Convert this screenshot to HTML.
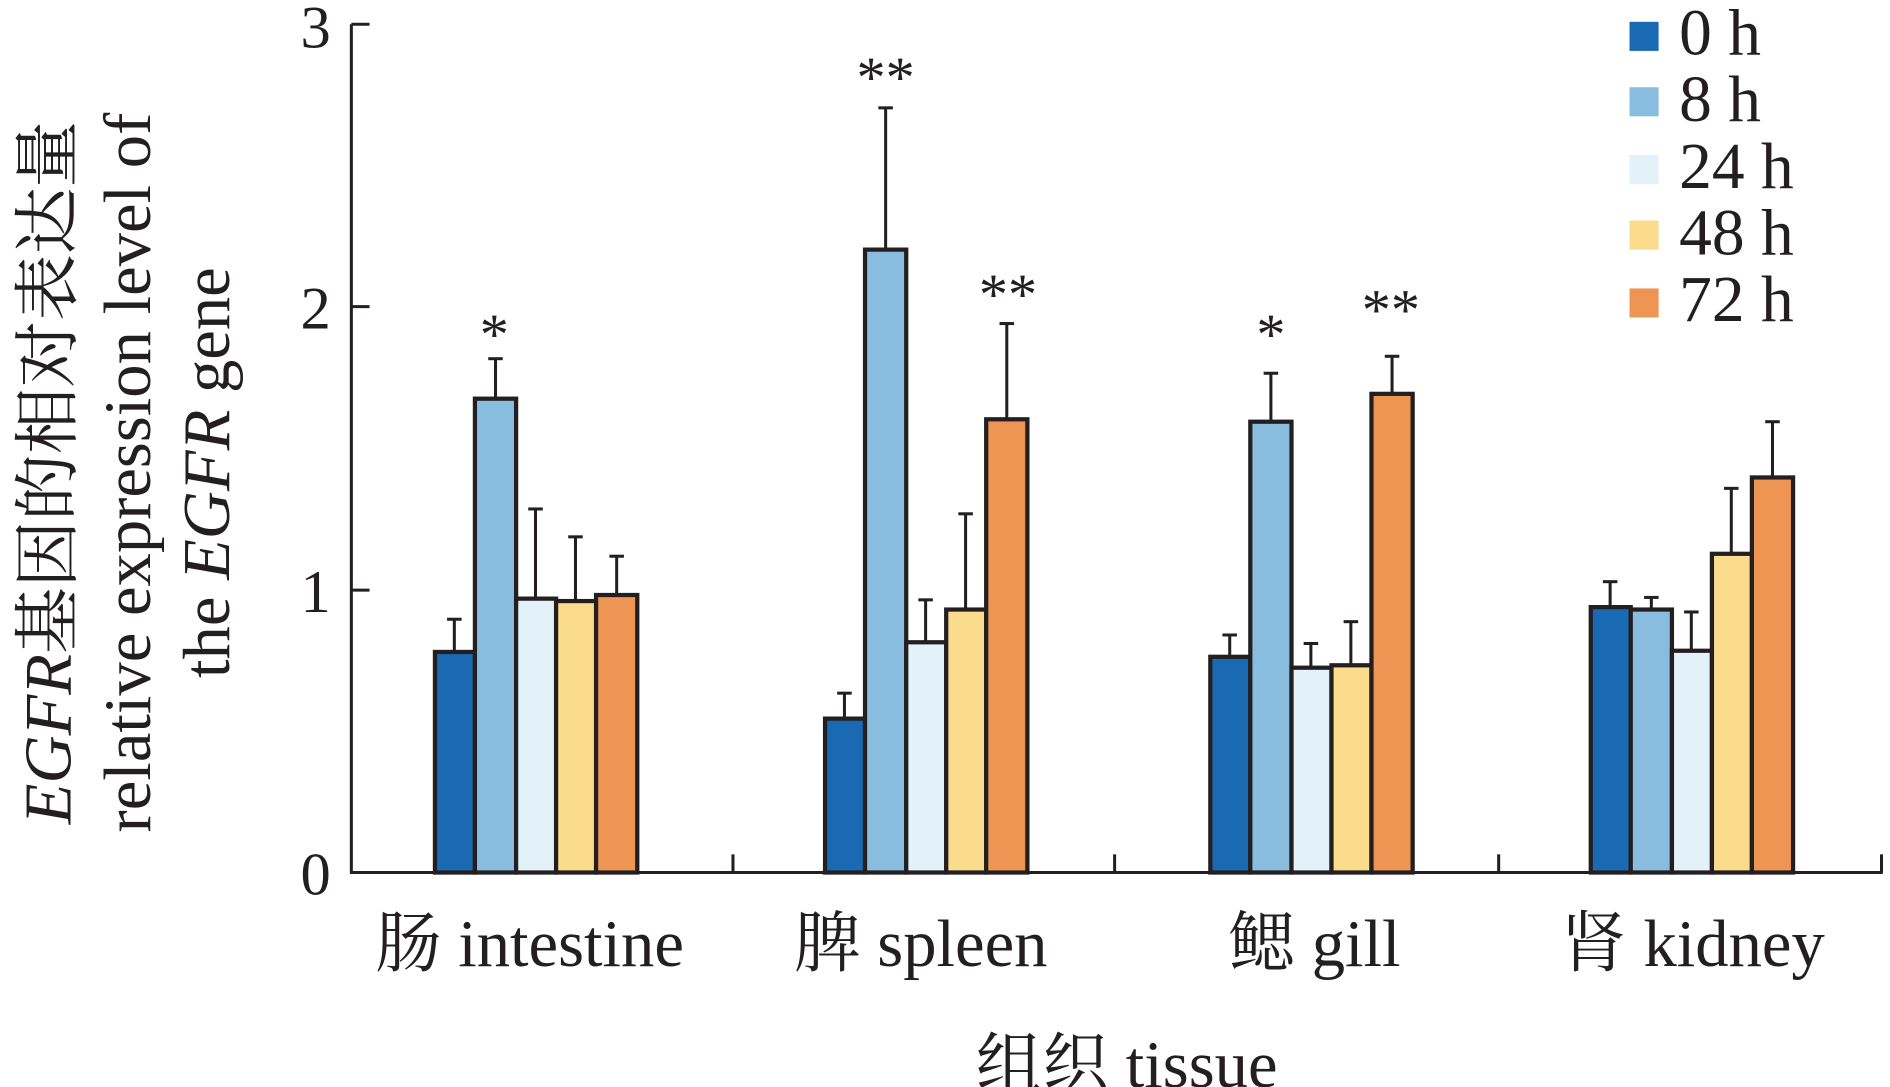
<!DOCTYPE html>
<html><head><meta charset="utf-8"><style>
html,body{margin:0;padding:0;background:#fff;}
svg{display:block;}
text{font-family:"Liberation Serif","Noto Serif CJK SC",serif;fill:#231f20;}
</style></head><body>
<svg width="1890" height="1087" viewBox="0 0 1560 897" preserveAspectRatio="none" xmlns="http://www.w3.org/2000/svg">
<g stroke="#231f20" stroke-width="2.5" fill="none">
<line x1="290" y1="20" x2="290" y2="721"/>
<line x1="289" y1="720" x2="1554" y2="720"/>
<line x1="290" y1="20" x2="305" y2="20"/>
<line x1="290" y1="253" x2="305" y2="253"/>
<line x1="290" y1="487" x2="305" y2="487"/>
<line x1="605" y1="705" x2="605" y2="720"/>
<line x1="920" y1="705" x2="920" y2="720"/>
<line x1="1237" y1="705" x2="1237" y2="720"/>
<line x1="1553" y1="705" x2="1553" y2="720"/>
</g>
<g font-size="50" text-anchor="end">
<text x="273" y="738">0</text><text x="273" y="271">2</text><text x="273" y="505">1</text><text x="273" y="39">3</text>
</g>
<g stroke="#231f20" stroke-width="3.5">
<g stroke-width="2.5">
<line x1="375" y1="538" x2="375" y2="511"/><line x1="369" y1="511" x2="381" y2="511"/>
<line x1="409" y1="329" x2="409" y2="296"/><line x1="403" y1="296" x2="415" y2="296"/>
<line x1="442" y1="494" x2="442" y2="420"/><line x1="436" y1="420" x2="448" y2="420"/>
<line x1="475" y1="496" x2="475" y2="443"/><line x1="469" y1="443" x2="481" y2="443"/>
<line x1="509" y1="491" x2="509" y2="459"/><line x1="503" y1="459" x2="515" y2="459"/>
<line x1="697" y1="593" x2="697" y2="572"/><line x1="691" y1="572" x2="703" y2="572"/>
<line x1="731" y1="206" x2="731" y2="89"/><line x1="725" y1="89" x2="737" y2="89"/>
<line x1="764" y1="530" x2="764" y2="495"/><line x1="758" y1="495" x2="770" y2="495"/>
<line x1="797" y1="503" x2="797" y2="424"/><line x1="791" y1="424" x2="803" y2="424"/>
<line x1="831" y1="346" x2="831" y2="267"/><line x1="825" y1="267" x2="837" y2="267"/>
<line x1="1015" y1="542" x2="1015" y2="524"/><line x1="1009" y1="524" x2="1021" y2="524"/>
<line x1="1049" y1="348" x2="1049" y2="308"/><line x1="1043" y1="308" x2="1055" y2="308"/>
<line x1="1082" y1="551" x2="1082" y2="531"/><line x1="1076" y1="531" x2="1088" y2="531"/>
<line x1="1115" y1="549" x2="1115" y2="513"/><line x1="1109" y1="513" x2="1121" y2="513"/>
<line x1="1149" y1="325" x2="1149" y2="294"/><line x1="1143" y1="294" x2="1155" y2="294"/>
<line x1="1329" y1="501" x2="1329" y2="480"/><line x1="1323" y1="480" x2="1335" y2="480"/>
<line x1="1363" y1="503" x2="1363" y2="493"/><line x1="1357" y1="493" x2="1369" y2="493"/>
<line x1="1396" y1="537" x2="1396" y2="505"/><line x1="1390" y1="505" x2="1402" y2="505"/>
<line x1="1429" y1="457" x2="1429" y2="403"/><line x1="1423" y1="403" x2="1435" y2="403"/>
<line x1="1463" y1="394" x2="1463" y2="348"/><line x1="1457" y1="348" x2="1469" y2="348"/>
</g>
<rect x="359" y="538" width="33" height="182" fill="#1a6ab3"/>
<rect x="392" y="329" width="34" height="391" fill="#88bde0"/>
<rect x="426" y="494" width="33" height="226" fill="#e3f1f8"/>
<rect x="459" y="496" width="33" height="224" fill="#fbdc8c"/>
<rect x="492" y="491" width="34" height="229" fill="#ef9553"/>
<rect x="681" y="593" width="33" height="127" fill="#1a6ab3"/>
<rect x="714" y="206" width="34" height="514" fill="#88bde0"/>
<rect x="748" y="530" width="33" height="190" fill="#e3f1f8"/>
<rect x="781" y="503" width="33" height="217" fill="#fbdc8c"/>
<rect x="814" y="346" width="34" height="374" fill="#ef9553"/>
<rect x="999" y="542" width="33" height="178" fill="#1a6ab3"/>
<rect x="1032" y="348" width="34" height="372" fill="#88bde0"/>
<rect x="1066" y="551" width="33" height="169" fill="#e3f1f8"/>
<rect x="1099" y="549" width="33" height="171" fill="#fbdc8c"/>
<rect x="1132" y="325" width="34" height="395" fill="#ef9553"/>
<rect x="1313" y="501" width="33" height="219" fill="#1a6ab3"/>
<rect x="1346" y="503" width="34" height="217" fill="#88bde0"/>
<rect x="1380" y="537" width="33" height="183" fill="#e3f1f8"/>
<rect x="1413" y="457" width="33" height="263" fill="#fbdc8c"/>
<rect x="1446" y="394" width="34" height="326" fill="#ef9553"/>
</g>
<g font-size="48" text-anchor="middle">
<text x="408" y="292">*</text>
<text x="731" y="80">**</text>
<text x="832" y="259">**</text>
<text x="1049" y="292">*</text>
<text x="1148" y="272">**</text>
</g>
<rect x="1345" y="18" width="24" height="24" fill="#1a6ab3"/>
<rect x="1345" y="72" width="24" height="24" fill="#88bde0"/>
<rect x="1345" y="128" width="24" height="24" fill="#e3f1f8"/>
<rect x="1345" y="182" width="24" height="24" fill="#fbdc8c"/>
<rect x="1345" y="238" width="24" height="24" fill="#ef9553"/>
<g font-size="54">
<text x="1386" y="45">0 h</text>
<text x="1386" y="100">8 h</text>
<text x="1386" y="155">24 h</text>
<text x="1386" y="210">48 h</text>
<text x="1386" y="265">72 h</text>
</g>
<g font-size="55" text-anchor="middle">
<text x="437" y="797">肠 intestine</text>
<text x="760" y="797">脾 spleen</text>
<text x="1085" y="797">鳃 gill</text>
<text x="1397" y="797">肾 kidney</text>
<text x="930" y="897">组织 tissue</text>
</g>
<g font-size="55" text-anchor="middle">
<text transform="translate(58,390) rotate(-90)"><tspan font-style="italic">EGFR</tspan>基因的相对表达量</text>
<text transform="translate(124,390) rotate(-90)">relative expression level of</text>
<text transform="translate(189,390) rotate(-90)">the <tspan font-style="italic">EGFR</tspan> gene</text>
</g>
</svg>
</body></html>
